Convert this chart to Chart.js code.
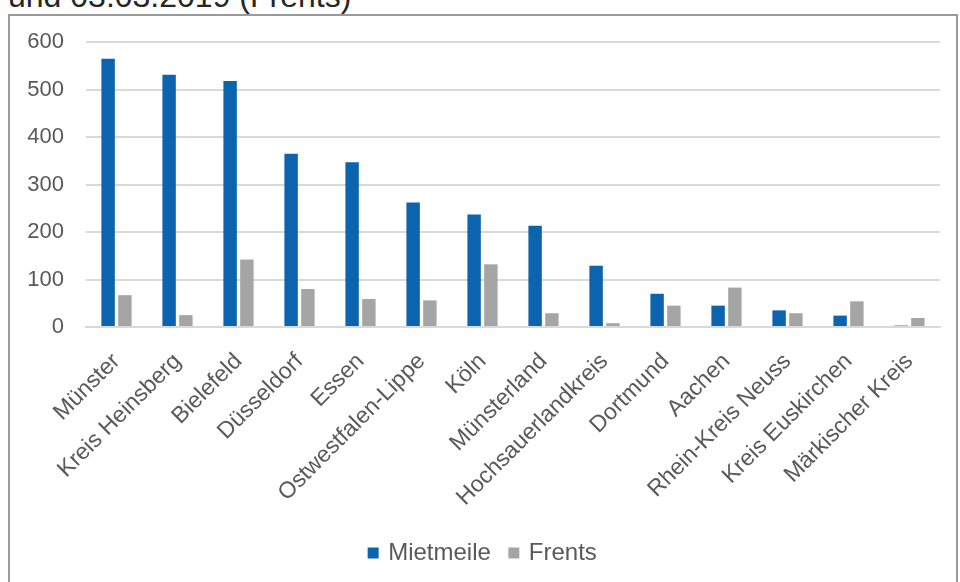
<!DOCTYPE html>
<html>
<head>
<meta charset="utf-8">
<script src="https://cdn.jsdelivr.net/npm/chart.js@4"></script>
<style>
  html, body { margin: 0; padding: 0; background: #fff; overflow: hidden; }
  body { width: 960px; height: 582px; position: relative; font-family: "Liberation Sans", Arial, sans-serif; }
  #title { position: absolute; left: 8px; top: -22px; font-size: 32px; color: #262626; white-space: nowrap; }
  #frame { position: absolute; left: 8px; top: 14px; width: 950px; height: 580px; border: 2px solid #9a9a9a; box-sizing: border-box; }
  #box { position: absolute; left: 10px; top: 16px; width: 946px; height: 566px; }
</style>
</head>
<body>
<div id="title">und 03.03.2019 (Frents)</div>
<div id="frame"></div>
<div id="box"><canvas id="myChart"></canvas></div>
<script>
const categories = ['Münster', 'Kreis Heinsberg', 'Bielefeld', 'Düsseldorf', 'Essen', 'Ostwestfalen-Lippe', 'Köln',
    'Münsterland', 'Hochsauerlandkreis', 'Dortmund', 'Aachen', 'Rhein-Kreis Neuss', 'Kreis Euskirchen', 'Märkischer Kreis'];
const mietmeile = [565, 531, 518, 365, 347, 262, 237, 213, 129, 70, 45, 35, 24, 3];
const frents = [67, 25, 142, 80, 59, 56, 132, 29, 8, 45, 83, 29, 54, 19];
const yTicks = [0, 100, 200, 300, 400, 500, 600];

const ctx = document.getElementById('myChart');

new Chart(ctx, {
    type: 'bar',
    data: {
        labels: categories,
        datasets: [
            { label: 'Mietmeile', data: mietmeile, backgroundColor: '#0c63ae' },
            { label: 'Frents', data: frents, backgroundColor: '#a5a5a5' }
        ]
    },
    options: {
        responsive: true,
        maintainAspectRatio: false,
        animation: false,
        layout: { padding: { top: 26, right: 16, left: 17, bottom: 7 } },
        datasets: { bar: { categoryPercentage: 0.55, barPercentage: 0.8 } },
        plugins: {
            legend: {
                position: 'bottom',
                labels: {
                    font: { family: 'Liberation Sans', size: 24 },
                    color: '#595959',
                    usePointStyle: true,
                    pointStyle: 'rect',
                    boxWidth: 6,
                    boxHeight: 11,
                    padding: 20
                }
            },
            tooltip: { enabled: false }
        },
        scales: {
            x: {
                grid: { display: false },
                border: { color: '#d9d9d9', width: 2 },
                // rotated labels may hang left of the plot like in the original
                afterFit: (scale) => {
                    scale.paddingLeft = 0;
                    scale.paddingRight = 0;
                    scale.height = 194;
                },
                ticks: {
                    autoSkip: false,
                    minRotation: 45,
                    maxRotation: 45,
                    padding: 13,
                    font: { family: 'Liberation Sans', size: 23 },
                    color: '#595959'
                }
            },
            y: {
                min: 0,
                max: 600,
                afterBuildTicks: (axis) => { axis.ticks = yTicks.map(v => ({ value: v })); },
                // padding was counted twice in the width, keep label + padding only
                afterFit: (axis) => {
                    axis.width = 59;
                    axis.paddingTop = 0;
                    axis.paddingBottom = 0;
                },
                grid: { color: '#d9d9d9', lineWidth: 2, drawTicks: false },
                border: { display: false },
                ticks: {
                    padding: 22,
                    font: { family: 'Liberation Sans', size: 22 },
                    color: '#595959'
                }
            }
        }
    }
});
</script>
</body>
</html>
